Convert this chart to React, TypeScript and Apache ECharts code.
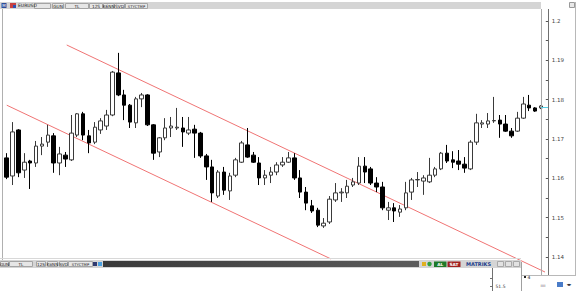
import React, { useEffect, useRef } from 'react';
import * as echarts from 'echarts';

// EURUSD candles (open, close, low, high)
const opens = [
  1.1652, 1.1606, 1.1723, 1.1621, 1.1644, 1.1639, 1.1682, 1.1692, 1.1708, 1.1639,
  1.1659, 1.1647, 1.1710, 1.1764, 1.1708, 1.1692, 1.1723, 1.1733, 1.1761, 1.1868,
  1.1812, 1.1786, 1.1741, 1.1802, 1.1812, 1.1736, 1.1667, 1.1703, 1.1728, 1.1728,
  1.1728, 1.1715, 1.1725, 1.1715, 1.1657, 1.1629, 1.1555, 1.1616, 1.1568, 1.1608,
  1.1641, 1.1685, 1.1659, 1.1639, 1.1601, 1.1608, 1.1616, 1.1634, 1.1641, 1.1652,
  1.1601, 1.1565, 1.1530, 1.1519, 1.1479, 1.1489, 1.1545, 1.1563, 1.1563, 1.1583,
  1.1588, 1.1631, 1.1624, 1.1588, 1.1578, 1.1519, 1.1525, 1.1514, 1.1525, 1.1565,
  1.1596, 1.1593, 1.1591, 1.1608, 1.1624, 1.1664, 1.1647, 1.1644, 1.1636, 1.1624,
  1.1692, 1.1738, 1.1738, 1.1746, 1.1748, 1.1738, 1.1720, 1.1720, 1.1753, 1.1786,
  1.1779, 1.1779,
];
const closes = [
  1.1603, 1.1718, 1.1614, 1.1641, 1.1639, 1.1682, 1.1687, 1.1710, 1.1639, 1.1662,
  1.1649, 1.1715, 1.1764, 1.1710, 1.1690, 1.1730, 1.1746, 1.1761, 1.1870, 1.1812,
  1.1786, 1.1743, 1.1802, 1.1812, 1.1736, 1.1664, 1.1703, 1.1728, 1.1733, 1.1730,
  1.1718, 1.1723, 1.1715, 1.1657, 1.1629, 1.1563, 1.1616, 1.1570, 1.1606, 1.1647,
  1.1690, 1.1654, 1.1641, 1.1601, 1.1608, 1.1616, 1.1634, 1.1641, 1.1652, 1.1601,
  1.1565, 1.1537, 1.1517, 1.1481, 1.1486, 1.1547, 1.1563, 1.1565, 1.1580, 1.1591,
  1.1631, 1.1616, 1.1588, 1.1578, 1.1525, 1.1525, 1.1517, 1.1522, 1.1563, 1.1596,
  1.1597, 1.1601, 1.1608, 1.1624, 1.1664, 1.1644, 1.1641, 1.1636, 1.1626, 1.1692,
  1.1741, 1.1741, 1.1746, 1.1747, 1.1738, 1.1720, 1.1708, 1.1753, 1.1789, 1.1779,
  1.1771, 1.1784,
];
const lows = [
  1.1598, 1.1583, 1.1603, 1.1601, 1.1573, 1.1629, 1.1659, 1.1680, 1.1614, 1.1608,
  1.1629, 1.1644, 1.1705, 1.1697, 1.1664, 1.1687, 1.1713, 1.1723, 1.1758, 1.1809,
  1.1748, 1.1728, 1.1728, 1.1781, 1.1733, 1.1647, 1.1654, 1.1697, 1.1705, 1.1723,
  1.1680, 1.1710, 1.1652, 1.1652, 1.1596, 1.1540, 1.1550, 1.1558, 1.1545, 1.1603,
  1.1639, 1.1652, 1.1639, 1.1583, 1.1583, 1.1588, 1.1608, 1.1629, 1.1639, 1.1596,
  1.1550, 1.1519, 1.1512, 1.1476, 1.1474, 1.1484, 1.1540, 1.1540, 1.1550, 1.1578,
  1.1583, 1.1588, 1.1583, 1.1565, 1.1519, 1.1494, 1.1489, 1.1502, 1.1519, 1.1545,
  1.1578, 1.1558, 1.1588, 1.1603, 1.1621, 1.1639, 1.1626, 1.1621, 1.1614, 1.1621,
  1.1685, 1.1728, 1.1728, 1.1741, 1.1703, 1.1718, 1.1703, 1.1718, 1.1751, 1.1771,
  1.1769, 1.1776,
];
const highs = [
  1.1664, 1.1743, 1.1725, 1.1664, 1.1647, 1.1695, 1.1705, 1.1736, 1.1715, 1.1680,
  1.1667, 1.1761, 1.1766, 1.1769, 1.1723, 1.1743, 1.1753, 1.1774, 1.1873, 1.1919,
  1.1825, 1.1789, 1.1807, 1.1817, 1.1814, 1.1738, 1.1705, 1.1753, 1.1756, 1.1779,
  1.1756, 1.1756, 1.1736, 1.1718, 1.1662, 1.1647, 1.1621, 1.1629, 1.1614, 1.1652,
  1.1695, 1.1728, 1.1667, 1.1654, 1.1621, 1.1629, 1.1641, 1.1654, 1.1667, 1.1664,
  1.1621, 1.1578, 1.1545, 1.1525, 1.1499, 1.1555, 1.1588, 1.1575, 1.1596, 1.1601,
  1.1654, 1.1654, 1.1629, 1.1603, 1.1591, 1.1540, 1.1537, 1.1532, 1.1591, 1.1601,
  1.1616, 1.1608, 1.1652, 1.1629, 1.1667, 1.1685, 1.1669, 1.1672, 1.1654, 1.1697,
  1.1764, 1.1748, 1.1766, 1.1807, 1.1761, 1.1761, 1.1728, 1.1769, 1.1807, 1.1812,
  1.1781, 1.1786,
];

// Channel trend lines: [bar index, price]
const upperTrend = [[10.22, 1.1939], [92.38, 1.1357]];
const lowerTrend = [[0, 1.1786], [55.25, 1.1395]];

const yMin = 1.14;
const yMax = 1.2;
const yStep = 0.01;

const symbol = 'EURUSD';
const topTabs = ['', 'GUN', 'TL', '12S', 'K6NN', 'SVD', 'STYCTMP'];
const bottomTabs = ['GUN', 'TL', '12S', 'K6NN', 'SVD', 'STYCTMP'];
const lowerPaneLabel = '51.5';

const FONT = 'DejaVu Sans';

function txt(x: number, y: number, text: string, o: any = {}) {
  return {
    type: 'text', x, y, z: 100, silent: true,
    style: {
      text, fontSize: o.size ?? 4.5, fontFamily: FONT, fill: o.fill ?? '#222',
      align: o.align ?? 'center', verticalAlign: 'middle', fontWeight: o.weight ?? 'normal',
    },
  };
}
function rect(x: number, y: number, w: number, h: number, fill: any, stroke?: string) {
  return {
    type: 'rect', z: 99, silent: true, shape: { x, y, width: w, height: h },
    style: { fill, stroke: stroke ?? null, lineWidth: stroke ? 1 : 0 },
  };
}
function line(x1: number, y1: number, x2: number, y2: number, stroke: string, z = 100) {
  return { type: 'line', z, silent: true, shape: { x1, y1, x2, y2 }, style: { stroke, lineWidth: 1 } };
}

function buildGraphics() {
  const g: any[] = [];
  // frame lines
  g.push(line(2.5, 9, 2.5, 260, '#b0b0b0'));
  g.push(line(541.5, 9, 541.5, 275, '#a8a8a8'));
  g.push(line(548.5, 9, 548.5, 275, '#707070'));
  g.push(line(575.5, 2, 575.5, 275, '#b8b8b8'));
  g.push(line(521, 275.5, 576, 275.5, '#b8b8b8'));
  g.push(rect(569.5, 2.5, 5, 5, '#e8e8e8', '#999'));
  // current price marker
  g.push(line(541, 107.5, 548, 107.5, '#58cfe6'));

  // top toolbar
  g.push(rect(0, 2, 541, 7, '#d5d5d5'));
  g.push(rect(1.5, 3, 5, 5, '#2d4d9a'));
  g.push(txt(4, 5.6, 'M', { fill: '#fff', size: 4 }));
  g.push(rect(10, 3, 6, 5, '#c84040'));
  g.push(rect(13, 5, 3, 3, '#3050b0'));
  g.push(txt(18, 5.6, symbol, { align: 'left', size: 4.5 }));
  const topPos = [[34, 50], [52, 63], [65, 88], [89, 102], [103, 113.5], [114, 124], [125, 147]];
  topTabs.forEach((t, i) => {
    const [a, b] = topPos[i];
    g.push(rect(a + 0.5, 3.5, b - a, 5, '#e6e6e6', '#a4a4a4'));
    if (t) g.push(txt((a + b) / 2 + 0.5, 6.1, t, { size: t.length > 4 ? 3.8 : 4.3 }));
  });

  // bottom toolbar
  g.push(line(0, 258.5, 521, 258.5, '#d8d8d8'));
  g.push(rect(0, 260, 521, 8, '#d5d5d5'));
  const botPos = [[0, 8], [9, 32], [36, 45], [47, 57], [59, 67], [68, 92]];
  bottomTabs.forEach((t, i) => {
    const [a, b] = botPos[i];
    g.push(rect(a + 0.5, 261.5, b - a, 5, '#e6e6e6', '#a4a4a4'));
    g.push(txt((a + b) / 2 + 0.5, 264.1, t, { size: t.length > 4 ? 3.8 : 4.1 }));
  });
  g.push(rect(93, 262, 4, 4, '#303a70'));
  g.push(rect(98, 262, 4, 4, '#4aa0e0'));
  g.push(rect(103, 261, 316, 6, new echarts.graphic.LinearGradient(0, 0, 1, 0, [
    { offset: 0, color: '#3a3a3a' }, { offset: 1, color: '#5c5c5c' },
  ])));
  g.push(rect(422, 262, 4, 4, '#e0b020'));
  g.push({ type: 'circle', z: 100, silent: true, shape: { cx: 429.5, cy: 264, r: 2.2 }, style: { fill: '#30a040' } });
  g.push(rect(434, 261.5, 12.5, 5.5, '#1f7a2a'));
  g.push(txt(440.2, 264.3, 'AL', { fill: '#fff', size: 4.3, weight: 'bold' }));
  g.push(rect(447.5, 261.5, 13, 5.5, '#a02020'));
  g.push(txt(454, 264.3, 'SAT', { fill: '#fff', size: 4.3, weight: 'bold' }));
  g.push(txt(478.5, 264.3, 'MATRIKS', { fill: '#203c8c', size: 5, weight: 'bold' }));
  [497, 505, 513].forEach((x) => g.push(rect(x + 0.5, 261.5, 6, 5, '#e2e2e2', '#a8a8a8')));

  // lower pane axis
  g.push(line(492.5, 268, 492.5, 291, '#707070'));
  g.push(line(490, 278.5, 492.5, 278.5, '#707070'));
  g.push(line(490, 286.5, 492.5, 286.5, '#707070'));
  g.push(txt(495.5, 286.6, lowerPaneLabel, { align: 'left', size: 4.5, fill: '#333' }));

  // lower-right box
  g.push(line(521.5, 262, 521.5, 291, '#a0a0a0'));
  g.push(rect(524, 276, 2, 2, '#222'));
  g.push(txt(529, 277.3, '4', { size: 4.5 }));
  g.push(txt(543, 285.5, 'ıııı', { size: 4.5, fill: '#666' }));
  g.push(rect(557, 282, 6, 5, '#4a7cc8'));
  g.push(txt(569, 284.8, '◂▸', { size: 4.5, fill: '#111' }));
  return g;
}

export default function App() {
  const ref = useRef<HTMLDivElement>(null);
  useEffect(() => {
    if (!ref.current) return;
    const chart = echarts.init(ref.current, undefined, { renderer: 'svg' });
    const bars = opens.map((_, i) => String(i + 1));
    const candles = opens.map((o, i) => [o, closes[i], lows[i], highs[i]]);
    chart.setOption({
      animation: false,
      backgroundColor: '#ffffff',
      grid: { left: 3.8, width: 540, top: 21, bottom: 34, containLabel: false },
      xAxis: [
        { type: 'category', data: bars, show: false, boundaryGap: true },
        { type: 'value', min: -0.5, max: bars.length - 0.5, show: false },
      ],
      yAxis: {
        type: 'value', position: 'right', offset: 5, min: yMin, max: yMax, interval: yStep,
        axisLine: { show: false, onZero: false },
        axisTick: { show: true, inside: true, length: 3, lineStyle: { color: '#555' } },
        minorTick: { show: true, splitNumber: 2, length: 3, lineStyle: { color: '#555' } },
        splitLine: { show: false },
        axisLabel: { margin: 3, fontSize: 5.5, fontFamily: FONT, color: '#444' },
      },
      graphic: buildGraphics(),
      series: [
        {
          type: 'candlestick', data: candles, barWidth: 4,
          itemStyle: { color: '#ffffff', color0: '#000000', borderColor: '#3a3a3a', borderColor0: '#000000', borderWidth: 1 },
        },
        {
          type: 'line', xAxisIndex: 1, data: upperTrend, symbol: 'none', clip: false, z: 1,
          lineStyle: { color: '#f07474', width: 1 },
        },
        {
          type: 'line', xAxisIndex: 1, data: lowerTrend, symbol: 'none', clip: false, z: 1,
          lineStyle: { color: '#f07474', width: 1 },
        },
      ],
    });
    return () => chart.dispose();
  }, []);
  return <div ref={ref} style={{ position: 'absolute', left: 0, top: 0, width: 579, height: 291 }} />;
}
